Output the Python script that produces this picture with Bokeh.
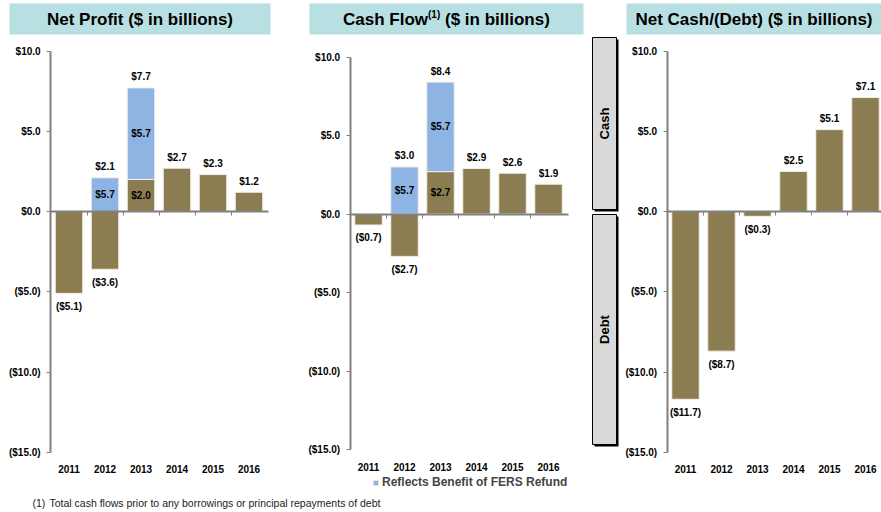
import numpy as np
from bokeh.plotting import figure
from bokeh.models import Range1d, LinearAxis, FixedTicker, Label, Legend, LegendItem
from bokeh.core.properties import value
from bokeh.embed import file_html
from bokeh.resources import INLINE

# ---------------- data ----------------
years = ["2011", "2012", "2013", "2014", "2015", "2016"]
profit_base = [-5.1, -3.6, 2.0, 2.7, 2.3, 1.2]
profit_fers = [0.0, 5.7, 5.7, 0.0, 0.0, 0.0]
cash_base = [-0.7, -2.7, 2.7, 2.9, 2.6, 1.9]
cash_fers = [0.0, 5.7, 5.7, 0.0, 0.0, 0.0]
netcash = [-11.7, -8.7, -0.3, 2.5, 5.1, 7.1]
y_ticks = [-15, -10, -5, 0, 5, 10]

title_profit = "Net Profit ($ in billions)"
title_cash_a = "Cash Flow"
title_cash_sup = "(1)"
title_cash_b = "($ in billions)"
title_net = "Net Cash/(Debt) ($ in billions)"
legend_label = "Reflects Benefit of FERS Refund"
footnote_num = "(1)"
footnote_text = "Total cash flows prior to any borrowings or principal repayments of debt"

# ---------------- styles ----------------
BROWN = "#8C7C51"
BLUE = "#8EB4E3"
EDGE = "#F3F0E6"
TEAL = "#B8DFE1"
GRAY = "#808080"
BOXGRAY = "#D9D9D9"
FONT = "Liberation Sans"

ORG_X, ORG_Y = 0, 0  # page px of the frame's top-left corner
W, H = 881, 512
UNIT = 36.0          # px per category slot
X_ORIGIN = 68.5      # page px of first category of first panel
Z_MAIN, S_MAIN = 211.0, 16.05
Z_CF, S_CF = 213.5, 15.7


def dx(px):
    return (px - X_ORIGIN) / UNIT


def dy(py):
    return (Z_MAIN - py) / S_MAIN


def fmt(v):
    return f"${v:.1f}" if v >= 0 else f"(${-v:.1f})"


p = figure(width=W, height=H, x_range=Range1d(dx(ORG_X), dx(ORG_X + W)),
           y_range=Range1d(dy(ORG_Y + H), dy(ORG_Y)),
           x_axis_type=None, y_axis_type=None, toolbar_location=None,
           output_backend="svg", min_border=0, outline_line_color=None)
p.extra_y_ranges = {"cf": Range1d((Z_CF - (ORG_Y + H)) / S_CF, (Z_CF - ORG_Y) / S_CF)}
p.background_fill_color = "white"
p.border_fill_color = "white"

BAR_W = 27.5 / UNIT
offsets = [0.0, dx(368.0), dx(685.0)]

txt = dict(text_font=value(FONT), text_font_style="bold", text_font_size="10px",
           text_align="center", text_baseline="middle", text_color="black")


def panel(off, base, fers, yname):
    kw = {} if yname is None else {"y_range_name": yname}
    xs = [off + i for i in range(len(years))]
    p.vbar(x=xs, top=base, bottom=0, width=BAR_W, fill_color=BROWN,
           line_color=EDGE, line_width=1, **kw)
    blue_r = None
    if fers is not None:
        bx = [xs[i] for i in range(len(xs)) if fers[i] > 0]
        bb = [max(base[i], 0) for i in range(len(xs)) if fers[i] > 0]
        bt = [base[i] + fers[i] for i in range(len(xs)) if fers[i] > 0]
        blue_r = p.vbar(x=bx, top=bt, bottom=bb, width=BAR_W, fill_color=BLUE,
                        line_color=EDGE, line_width=1, **kw)
        p.text(x=bx, y=[(b + t) / 2 for b, t in zip(bb, bt)],
               text=[fmt(fers[i]) for i in range(len(xs)) if fers[i] > 0], **txt, **kw)
        p.text(x=bx, y=bt, text=[fmt(t) for t in bt], y_offset=-11, **txt, **kw)
    else:
        fers = [0.0] * len(xs)
    neg = [i for i in range(len(xs)) if base[i] < 0]
    p.text(x=[xs[i] for i in neg], y=[base[i] for i in neg],
           text=[fmt(base[i]) for i in neg], y_offset=13, **txt, **kw)
    pos = [i for i in range(len(xs)) if base[i] >= 0 and fers[i] == 0]
    p.text(x=[xs[i] for i in pos], y=[base[i] for i in pos],
           text=[fmt(base[i]) for i in pos], y_offset=-11, **txt, **kw)
    ins = [i for i in range(len(xs)) if base[i] >= 0 and fers[i] > 0]
    p.text(x=[xs[i] for i in ins], y=[base[i] / 2 for i in ins],
           text=[fmt(base[i]) for i in ins], **txt, **kw)

    lab = dict(major_label_text_font=FONT, major_label_text_font_style="bold",
               major_label_text_font_size="10px", major_label_text_color="black")
    yax = LinearAxis(fixed_location=off - 0.51, ticker=FixedTicker(ticks=y_ticks),
                     major_label_overrides={t: fmt(t) for t in y_ticks},
                     bounds=(min(y_ticks), max(y_ticks)),
                     axis_line_color=GRAY, axis_line_width=2,
                     major_tick_line_color=GRAY, major_tick_in=0, major_tick_out=4,
                     minor_tick_line_color=None, major_label_standoff=6, **lab, **kw)
    p.add_layout(yax, "left")
    zax = LinearAxis(fixed_location=0, ticker=FixedTicker(ticks=[x + 0.5 for x in xs[:-1]]),
                     bounds=(off - 0.51, off + len(years) - 0.45),
                     axis_line_color=GRAY, axis_line_width=2,
                     major_tick_line_color=GRAY, major_tick_in=0, major_tick_out=4,
                     minor_tick_line_color=None, major_label_text_color=None, **kw)
    p.add_layout(zax, "below")
    xax = LinearAxis(fixed_location=min(y_ticks), ticker=FixedTicker(ticks=xs),
                     major_label_overrides=dict(zip(xs, years)),
                     axis_line_color=None, major_tick_line_color=None,
                     minor_tick_line_color=None, major_label_standoff=7, **lab, **kw)
    p.add_layout(xax, "below")
    return blue_r


blue1 = panel(offsets[0], profit_base, profit_fers, None)
panel(offsets[1], cash_base, cash_fers, "cf")
panel(offsets[2], netcash, None, None)

# ---------------- title boxes ----------------
for l, r in [(9, 270), (309, 583), (626, 881)]:
    p.quad(left=dx(l), right=dx(r), top=dy(3), bottom=dy(34), fill_color=TEAL, line_color=None)

tf = dict(text_font=FONT, text_font_style="bold", text_color="black", text_baseline="middle")
p.add_layout(Label(x=dx(139.5), y=dy(19), text=title_profit, text_align="center",
                   text_font_size="17px", **tf))
p.add_layout(Label(x=dx(753.5), y=dy(19), text=title_net, text_align="center",
                   text_font_size="17px", **tf))
p.add_layout(Label(x=dx(342.5), y=dy(19), text=title_cash_a, text_align="left",
                   text_font_size="17px", **tf))
p.add_layout(Label(x=dx(427.5), y=dy(14), text=title_cash_sup, text_align="left",
                   text_font_size="10px", **tf))
p.add_layout(Label(x=dx(444.5), y=dy(19), text=title_cash_b, text_align="left",
                   text_font_size="17px", **tf))

# ---------------- Cash / Debt side boxes ----------------
for (t, b, name) in [(37, 209, "Cash"), (214, 444, "Debt")]:
    p.quad(left=dx(594), right=dx(618), top=dy(t + 2), bottom=dy(b + 2),
           fill_color="black", line_color=None)
    p.quad(left=dx(592), right=dx(616), top=dy(t), bottom=dy(b),
           fill_color=BOXGRAY, line_color="black", line_width=1)
    p.add_layout(Label(x=dx(604), y=dy((t + b) / 2), text=name, angle=np.pi / 2,
                       text_align="center", text_font_size="13px", **tf))

# ---------------- legend ----------------
legend = Legend(items=[LegendItem(label=legend_label, renderers=[blue1])],
                location=(372 - ORG_X, ORG_Y + H - 489), background_fill_alpha=0,
                border_line_color=None,
                padding=0, margin=0, glyph_width=7, glyph_height=7, label_standoff=3,
                label_text_font=FONT, label_text_font_style="bold",
                label_text_font_size="12px")
p.add_layout(legend)

# ---------------- footnote ----------------
ff = dict(text_font=FONT, text_font_size="10.5px", text_color="#222222",
          text_baseline="middle", text_align="left")
p.add_layout(Label(x=dx(32), y=dy(502), text=footnote_num, **ff))
p.add_layout(Label(x=dx(49), y=dy(502), text=footnote_text, **ff))

open("out.html", "w").write(file_html(p, INLINE))
